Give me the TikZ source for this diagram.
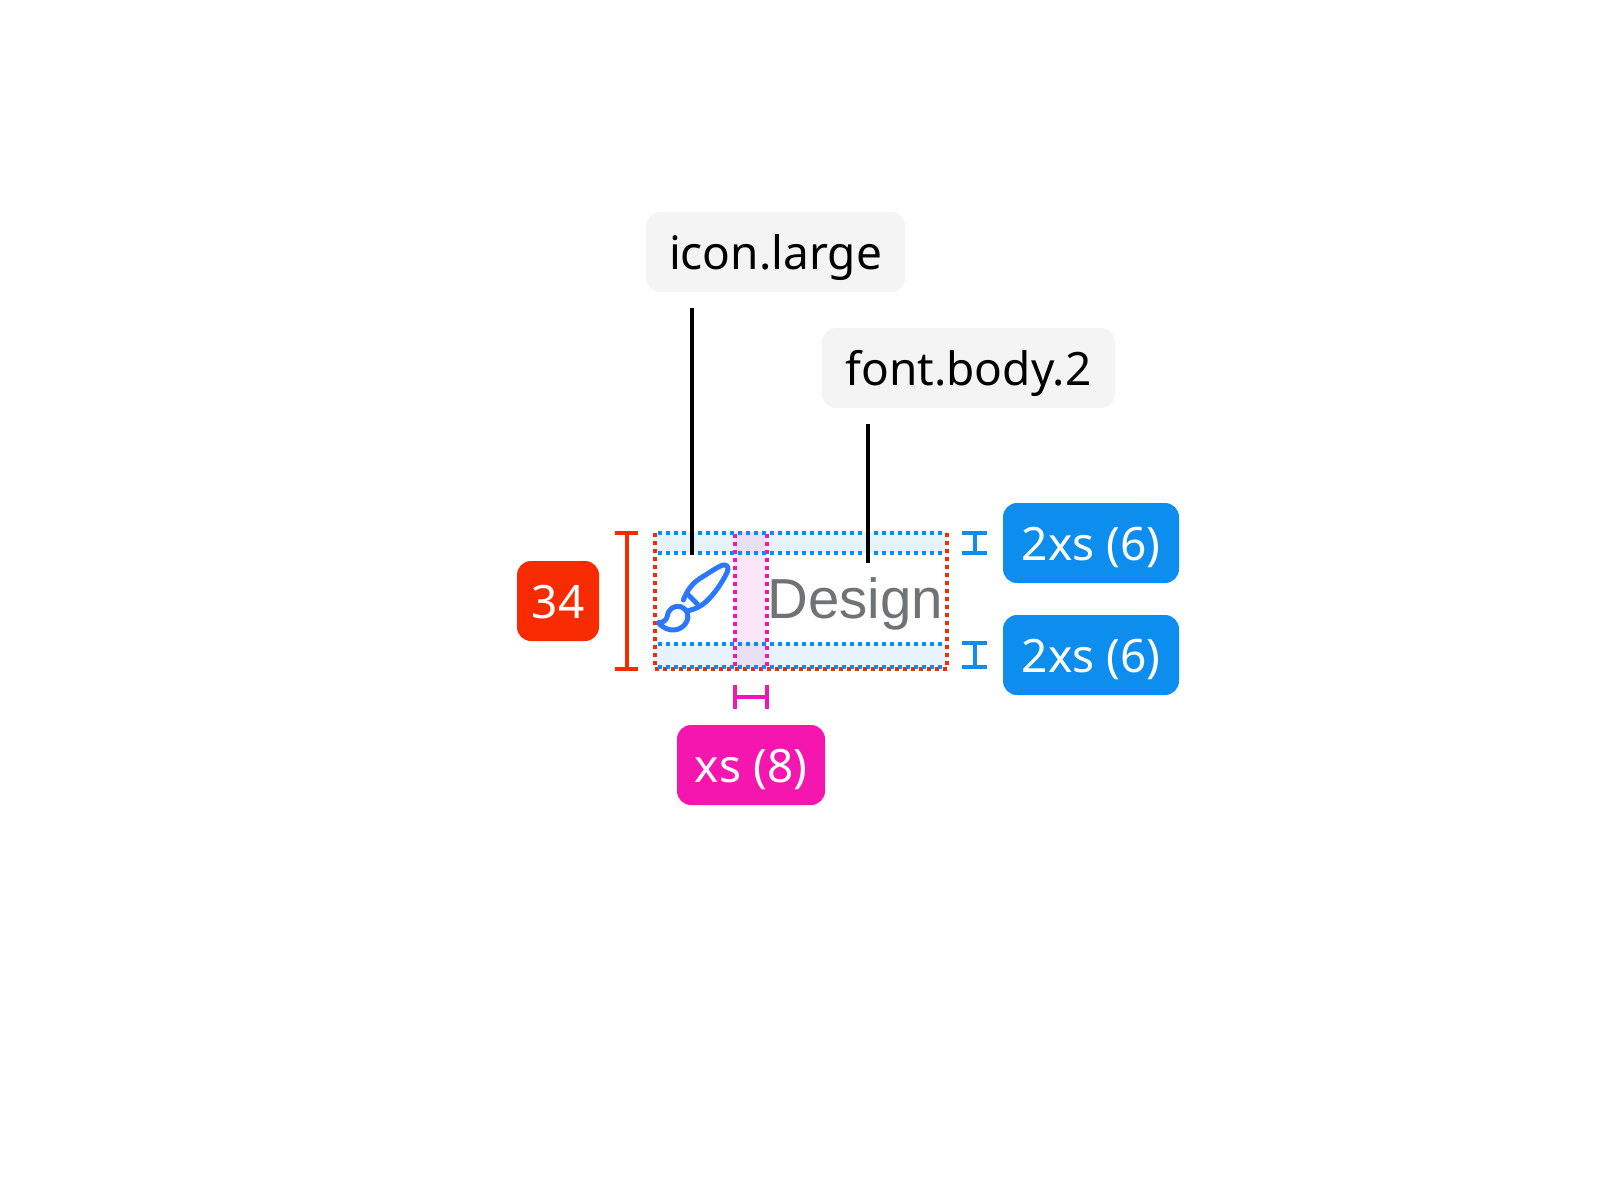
\documentclass[tikz,border=0pt]{standalone}
\usepackage{fontspec}
\setmainfont{Liberation Sans}
\newfontfamily\tagfont{Noto Sans}
\newcommand{\tagtext}[1]{\raisebox{-8.5pt}[0pt][0pt]{#1}}
\definecolor{bluea}{HTML}{0D8DEE}
\definecolor{reda}{HTML}{F72A00}
\definecolor{pinka}{HTML}{F516B0}
\definecolor{bandblue}{HTML}{E6F3FD}
\definecolor{bandpink}{HTML}{FBE6F7}
\definecolor{bandmix}{HTML}{E8E0F1}
\definecolor{tagbg}{HTML}{F4F4F4}
\definecolor{iconblue}{HTML}{2B77FF}
\definecolor{txtgrey}{HTML}{6F7375}
\tikzset{
  x=0.5pt,y=-0.5pt,
  tag/.style={rounded corners=7pt,minimum height=40pt,inner sep=0pt,font=\tagfont\fontsize{23}{27}\selectfont,anchor=center},
  greytag/.style={tag,fill=tagbg,text=black},
  bluetag/.style={tag,fill=bluea,text=white,minimum width=88pt},
  redtag/.style={tag,fill=reda,text=white,minimum width=41pt},
  pinktag/.style={tag,fill=pinka,text=white,minimum width=74pt},
  dotline/.style={line width=2pt,dash pattern=on 2pt off 2pt},
  bracket/.style={line width=2pt},
  leader/.style={line width=2pt,black},
}
\begin{document}
\begin{tikzpicture}
\useasboundingbox (0,0) rectangle (1600,1200);
% bands
\fill[bandblue] (654,532) rectangle (947,553);
\fill[bandblue] (654,643) rectangle (947,668);
\fill[bandpink] (734,532) rectangle (767,668);
\fill[bandmix] (736,532) rectangle (765,553);
\fill[bandmix] (736,643) rectangle (765,668);
% dotted outlines
\draw[dotline,reda] (655,669) -- (947,669);
\draw[dotline,reda] (655,533) -- (655,669);
\draw[dotline,reda] (947,533) -- (947,669);
\draw[dotline,pinka] (735,534) -- (735,668);
\draw[dotline,pinka] (767,534) -- (767,668);
\draw[dotline,bluea] (658,533) -- (945,533);
\draw[dotline,bluea] (658,553) -- (945,553);
\draw[dotline,bluea] (658,643.5) -- (945,643.5);
\draw[dotline,bluea] (658,667) -- (945,667);
% brush icon
\begin{scope}[shift={(600,510)},x=0.1667pt,y=-0.1667pt,line width=2.5pt,iconblue,line join=round,line cap=round]
\draw (250,270) .. controls (262,240) and (275,222) .. (300,205)
  .. controls (325,190) and (350,172) .. (368,165)
  .. controls (380,162) and (388,172) .. (382,185)
  .. controls (368,215) and (345,250) .. (318,275)
  .. controls (302,290) and (285,297) .. (265,302);
\draw (262,252) -- (292,282);
\draw (175,338) .. controls (190,338) and (200,330) .. (202,318)
  .. controls (205,295) and (225,285) .. (242,290)
  .. controls (262,296) and (270,318) .. (258,338)
  .. controls (245,362) and (205,372) .. (175,338) -- cycle;
\end{scope}
\node[anchor=base west,inner sep=0pt,text=txtgrey,font=\fontsize{28.2}{32}\selectfont] (design) at (767,618) {Design};
% tags
\node[greytag,minimum width=129.5pt] (iconlarge) at (775.5,252) {\tagtext{icon.large}};
\node[greytag,minimum width=146.5pt] (fontbody) at (968.5,368) {\tagtext{font.body.2}};
\node[bluetag] (blueone) at (1091,543) {\tagtext{2xs (6)}};
\node[bluetag] (bluetwo) at (1091,655) {\tagtext{2xs (6)}};
\node[redtag] (redtag) at (558,601) {\tagtext{34}};
\node[pinktag] (pinktag) at (751,765) {\tagtext{xs (8)}};
% leaders
\coordinate (iconA) at (692,308);
\coordinate (iconB) at (692,555);
\coordinate (fontA) at (868,424);
\coordinate (fontB) at (868,563);
\draw[leader] (iconA) -- (iconB);
\draw[leader] (fontA) -- (fontB);
% brackets
\draw[bracket,reda] (615,533) -- (638,533) (626.5,533) -- (626.5,668.5) (615,668.5) -- (638,668.5);
\draw[bracket,bluea] (962,533) -- (987,533) (975,533) -- (975,553) (962,553) -- (987,553);
\draw[bracket,bluea] (962,643) -- (987,643) (975,643) -- (975,667) (962,667) -- (987,667);
\draw[bracket,pinka] (735,685) -- (735,709) (735,697) -- (767,697) (767,685) -- (767,709);
\end{tikzpicture}
\end{document}
